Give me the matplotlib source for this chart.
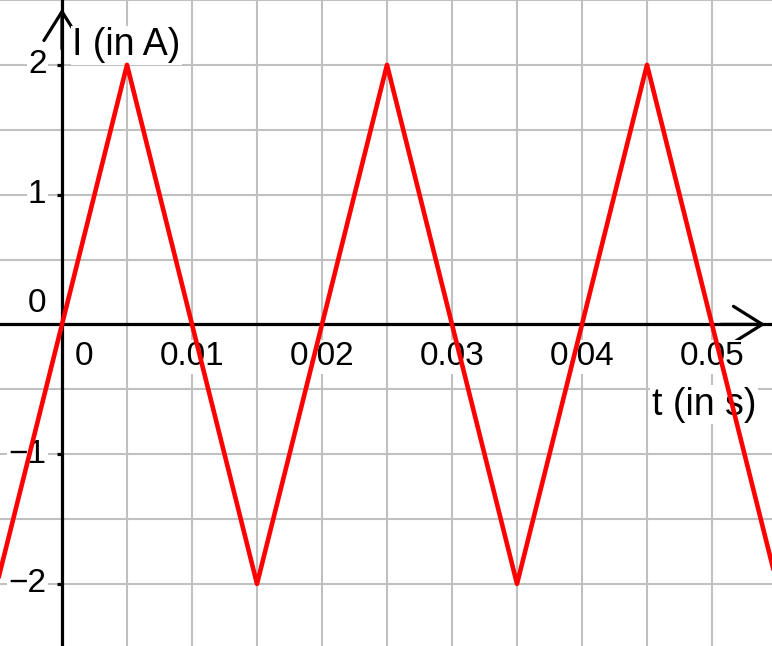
import numpy as np
import matplotlib.pyplot as plt
from matplotlib.ticker import MultipleLocator

plt.rcParams['font.family'] = ['Liberation Sans', 'DejaVu Sans']

# triangle wave corners
t_pts = [-0.005, 0.005, 0.015, 0.025, 0.035, 0.045, 0.055]
i_pts = [-2, 2, -2, 2, -2, 2, -2]

x_ticks = [0, 0.01, 0.02, 0.03, 0.04, 0.05]
x_labels = ['0', '0.01', '0.02', '0.03', '0.04', '0.05']
y_ticks = [-2, -1, 1, 2]
y_labels = ['\u22122', '\u22121', '1', '2']

fig = plt.figure(figsize=(7.72, 6.46), dpi=100)
ax = fig.add_axes([0, 0, 1, 1])
ax.set_xlim(-62 / 13000, 710 / 13000)
ax.set_ylim(-321 / 129.5, 2.5)

ax.xaxis.set_major_locator(MultipleLocator(0.005))
ax.yaxis.set_major_locator(MultipleLocator(0.5))
ax.grid(True, color='#c0c0c0', lw=1.5, zorder=0)
ax.tick_params(length=0, labelbottom=False, labelleft=False)
for s in ax.spines.values():
    s.set_visible(False)

# axes lines with open arrowheads
ax.axhline(0, color='black', lw=2.3, zorder=2)
ax.axvline(0, color='black', lw=2.3, zorder=2)
arrow = dict(arrowstyle='->,head_length=1.6,head_width=1.0', color='black', lw=2.3,
             mutation_scale=13)
ax.annotate('', xy=(0.995, 0), xycoords=('axes fraction', 'data'),
            xytext=(0.93, 0), textcoords=('axes fraction', 'data'),
            arrowprops=arrow, zorder=3)
ax.annotate('', xy=(0, 0.991), xycoords=('data', 'axes fraction'),
            xytext=(0, 0.92), textcoords=('data', 'axes fraction'),
            arrowprops=arrow, zorder=3)

# small tick marks
for v in y_ticks:
    ax.plot([-0.0004, 0], [v, v], color='black', lw=2.3, zorder=2, solid_capstyle='butt')

box = dict(facecolor='white', edgecolor='none', pad=1)
fs = 24
for v, lab in zip(x_ticks, x_labels):
    xv = v + 0.0017 if v == 0 else v
    ax.text(xv, -0.25, lab, ha='center', va='center', fontsize=fs, bbox=box, zorder=4)
for v, lab in zip(y_ticks, y_labels):
    ax.text(-0.0012, v, lab, ha='right', va='center', fontsize=fs, bbox=box, zorder=4)
ax.text(-0.0012, 0.16, '0', ha='right', va='center', fontsize=fs, bbox=box, zorder=4)

ax.text(0.0008, 2.15, 'I (in A)', ha='left', va='center', fontsize=27, bbox=box, zorder=4)
ax.text(0.0534, -0.62, 't (in s)', ha='right', va='center', fontsize=27, bbox=box, zorder=4)

ax.plot(t_pts, i_pts, color='#ff0000', lw=3.3, zorder=5)

fig.savefig('out.png', dpi=100)
